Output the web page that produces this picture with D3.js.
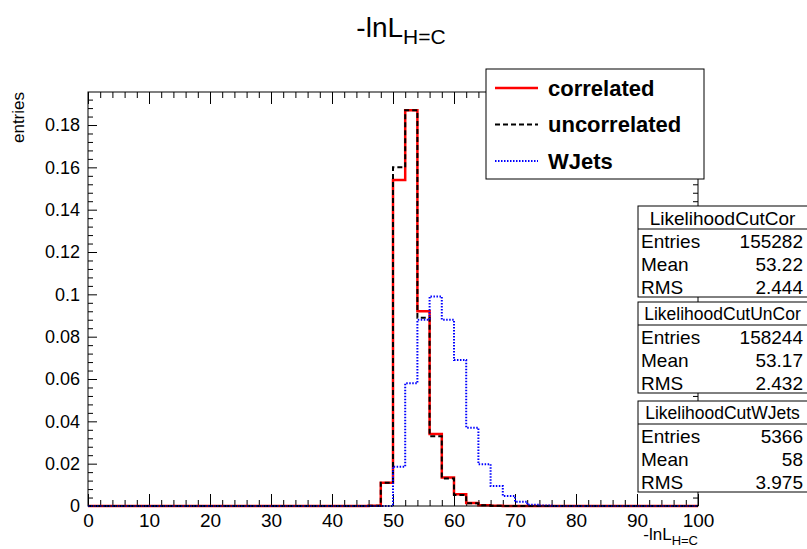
<!DOCTYPE html>
<html>
<head>
<meta charset="utf-8">
<script src="https://cdn.jsdelivr.net/npm/d3@7"></script>
<style>
  body { margin: 0; background: #fff; }
  svg { display: block; font-family: "Liberation Sans", Arial, Helvetica, sans-serif; }
</style>
</head>
<body>
<div id="chart"></div>
<script>
// bin lower edges (width 2), last edge is 100
const binLow = [0, 2, 4, 6, 8, 10, 12, 14, 16, 18,
  20, 22, 24, 26, 28, 30, 32, 34, 36, 38,
  40, 42, 44, 46, 48, 50, 52, 54, 56, 58,
  60, 62, 64, 66, 68, 70, 72, 74, 76, 78,
  80, 82, 84, 86, 88, 90, 92, 94, 96, 98];
const xMax = 100;

const correlated = [0, 0, 0, 0, 0, 0, 0, 0, 0, 0,
  0, 0, 0, 0, 0, 0, 0, 0, 0, 0,
  0, 0, 0, 0.0001, 0.011, 0.154, 0.187, 0.092, 0.034, 0.0135,
  0.0055, 0.0014, 0.0004, 0.0001, 0, 0, 0, 0, 0, 0,
  0, 0, 0, 0, 0, 0, 0, 0, 0, 0];

const uncorrelated = [0, 0, 0, 0, 0, 0, 0, 0, 0, 0,
  0, 0, 0, 0, 0, 0, 0, 0, 0, 0,
  0, 0, 0, 0.0001, 0.011, 0.160, 0.187, 0.089, 0.033, 0.013,
  0.0052, 0.0013, 0.0004, 0.0001, 0, 0, 0, 0, 0, 0,
  0, 0, 0, 0, 0, 0, 0, 0, 0, 0];

const wjets = [0, 0, 0, 0, 0, 0, 0, 0, 0, 0,
  0, 0, 0, 0, 0, 0, 0, 0, 0, 0,
  0, 0, 0, 0, 0, 0.0186, 0.058, 0.088, 0.099, 0.088,
  0.069, 0.037, 0.0197, 0.0094, 0.0047, 0.002, 0.0006, 0.0002, 0, 0,
  0, 0, 0, 0, 0, 0, 0, 0, 0, 0];

const seriesNames = ["correlated", "uncorrelated", "WJets"];

const xMajorTicks = [0, 10, 20, 30, 40, 50, 60, 70, 80, 90, 100];
const yMajorTicks = [0, 0.02, 0.04, 0.06, 0.08, 0.1, 0.12, 0.14, 0.16, 0.18];
const yTickLabels = ["0", "0.02", "0.04", "0.06", "0.08", "0.1", "0.12", "0.14", "0.16", "0.18"];
const yMax = 0.1956;

// stats boxes
const statTitles = ["LikelihoodCutCor", "LikelihoodCutUnCor", "LikelihoodCutWJets"];
const statEntries = ["155282", "158244", "5366"];
const statMeans = ["53.22", "53.17", "58"];
const statRMS = ["2.444", "2.432", "3.975"];

const fullWidth = 807, fullHeight = 549;
const frame = { left: 88, right: 698, top: 92, bottom: 506 };

const svg = d3.select("#chart")
  .append("svg")
  .attr("width", fullWidth)
  .attr("height", fullHeight);

const x = d3.scaleLinear().domain([0, xMax]).range([frame.left, frame.right]);
const y = d3.scaleLinear().domain([0, yMax]).range([frame.bottom, frame.top]);

// minor ticks every 2 on x, every 0.004 on y
const xMinorTicks = binLow.filter(v => v % 10 !== 0);
const yMinorTicks = d3.range(1, 49).map(i => i * 0.004).filter((v, i) => (i + 1) % 5 !== 0);

function cleanAxis(g) {
  g.select(".domain").remove();
  g.selectAll("line").attr("stroke", "#000").attr("stroke-width", 1);
}

// bottom axis
svg.append("g")
  .attr("transform", `translate(0,${frame.bottom})`)
  .call(d3.axisBottom(x).tickValues(xMajorTicks).tickSize(-12).tickPadding(8).tickFormat(d => d))
  .call(cleanAxis)
  .selectAll("text")
  .attr("fill", "#000")
  .style("font-size", "19px");
svg.append("g")
  .attr("transform", `translate(0,${frame.bottom})`)
  .call(d3.axisBottom(x).tickValues(xMinorTicks).tickSize(-6).tickFormat(""))
  .call(cleanAxis);

// top axis (ticks only)
svg.append("g")
  .attr("transform", `translate(0,${frame.top})`)
  .call(d3.axisTop(x).tickValues(xMajorTicks).tickSize(-12).tickFormat(""))
  .call(cleanAxis);
svg.append("g")
  .attr("transform", `translate(0,${frame.top})`)
  .call(d3.axisTop(x).tickValues(xMinorTicks).tickSize(-6).tickFormat(""))
  .call(cleanAxis);

// left axis
svg.append("g")
  .attr("transform", `translate(${frame.left},0)`)
  .call(d3.axisLeft(y).tickValues(yMajorTicks).tickSize(-9).tickPadding(8)
    .tickFormat((d, i) => yTickLabels[i]))
  .call(cleanAxis)
  .selectAll("text")
  .attr("fill", "#000")
  .style("font-size", "18px");
svg.append("g")
  .attr("transform", `translate(${frame.left},0)`)
  .call(d3.axisLeft(y).tickValues(yMinorTicks).tickSize(-5).tickFormat(""))
  .call(cleanAxis);

// right axis (ticks only)
svg.append("g")
  .attr("transform", `translate(${frame.right},0)`)
  .call(d3.axisRight(y).tickValues(yMajorTicks).tickSize(-9).tickFormat(""))
  .call(cleanAxis);
svg.append("g")
  .attr("transform", `translate(${frame.right},0)`)
  .call(d3.axisRight(y).tickValues(yMinorTicks).tickSize(-5).tickFormat(""))
  .call(cleanAxis);

// histograms as step lines
const line = d3.line()
  .x(d => x(d[0]))
  .y(d => y(d[1]))
  .curve(d3.curveStepAfter);

function histPoints(values) {
  const pts = binLow.map((b, i) => [b, values[i]]);
  pts.push([xMax, values[values.length - 1]]);
  return pts;
}

const styles = [
  { data: correlated, color: "#ff0000", width: 2.5, dash: null },
  { data: uncorrelated, color: "#000000", width: 2, dash: "5,3" },
  { data: wjets, color: "#0000ff", width: 2, dash: "1.5,1.5" }
];

styles.forEach(s => {
  svg.append("path")
    .datum(histPoints(s.data))
    .attr("fill", "none")
    .attr("stroke", s.color)
    .attr("stroke-width", s.width)
    .attr("stroke-dasharray", s.dash)
    .attr("d", line);
});

// frame
svg.append("rect")
  .attr("x", frame.left)
  .attr("y", frame.top)
  .attr("width", frame.right - frame.left)
  .attr("height", frame.bottom - frame.top)
  .attr("fill", "none")
  .attr("stroke", "#000")
  .attr("stroke-width", 1);

// title
const title = svg.append("text")
  .attr("x", 401)
  .attr("y", 37)
  .attr("text-anchor", "middle")
  .style("font-size", "28px");
title.append("tspan").text("-lnL");
title.append("tspan").attr("dy", 7).style("font-size", "21px").text("H=C");

// x axis title
const xTitle = svg.append("text")
  .attr("x", frame.right)
  .attr("y", 540)
  .attr("text-anchor", "end")
  .style("font-size", "17px");
xTitle.append("tspan").text("-lnL");
xTitle.append("tspan").attr("dy", 5).style("font-size", "13px").text("H=C");

// y axis title
svg.append("text")
  .attr("transform", `translate(24,${frame.top}) rotate(-90)`)
  .attr("text-anchor", "end")
  .style("font-size", "17px")
  .text("entries");

// legend
const legend = svg.append("g").attr("transform", "translate(486,69)");
legend.append("rect")
  .attr("width", 218)
  .attr("height", 110)
  .attr("fill", "#fff")
  .attr("stroke", "#000");

seriesNames.forEach((name, i) => {
  const row = legend.append("g").attr("transform", `translate(0,${19 + i * 36.5})`);
  row.append("line")
    .attr("x1", 9).attr("x2", 52)
    .attr("stroke", styles[i].color)
    .attr("stroke-width", styles[i].width)
    .attr("stroke-dasharray", styles[i].dash);
  row.append("text")
    .attr("x", 62)
    .attr("dy", "0.35em")
    .style("font-size", "22px")
    .style("font-weight", "bold")
    .text(name);
});

// stats boxes
const boxTops = [206, 302, 401];
const titleSizes = [19, 17.5, 17.5];
const boxLeft = 638, boxRight = 809, boxHeight = 91, titleHeight = 23;

statTitles.forEach((t, i) => {
  const g = svg.append("g").attr("transform", `translate(${boxLeft},${boxTops[i]})`);
  g.append("rect")
    .attr("width", boxRight - boxLeft)
    .attr("height", boxHeight)
    .attr("fill", "#fff")
    .attr("stroke", "#000");
  g.append("line")
    .attr("x1", 0).attr("x2", boxRight - boxLeft)
    .attr("y1", titleHeight).attr("y2", titleHeight)
    .attr("stroke", "#000");
  g.append("text")
    .attr("x", (807 - boxLeft) / 2)
    .attr("y", 12)
    .attr("dy", "0.35em")
    .attr("text-anchor", "middle")
    .style("font-size", titleSizes[i] + "px")
    .text(t);
  const rows = [["Entries", statEntries[i]], ["Mean", statMeans[i]], ["RMS", statRMS[i]]];
  rows.forEach((r, j) => {
    g.append("text")
      .attr("x", 3)
      .attr("y", 35 + j * 23)
      .attr("dy", "0.35em")
      .style("font-size", "19px")
      .text(r[0]);
    g.append("text")
      .attr("x", 803 - boxLeft)
      .attr("y", 35 + j * 23)
      .attr("dy", "0.35em")
      .attr("text-anchor", "end")
      .style("font-size", "19px")
      .text(r[1]);
  });
});
</script>
</body>
</html>
